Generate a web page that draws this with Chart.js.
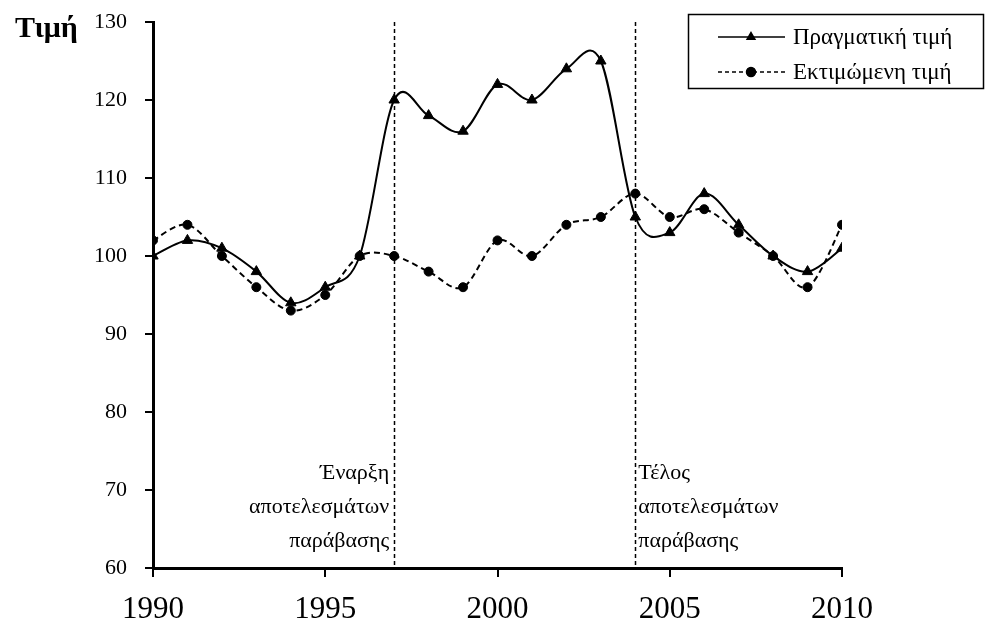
<!DOCTYPE html>
<html>
<head>
<meta charset="utf-8">
<script src="https://cdn.jsdelivr.net/npm/chart.js@4.4.0/dist/chart.umd.min.js"></script>
<style>
  html, body { margin: 0; padding: 0; background: #fff; }
  #wrap { width: 991px; height: 622px; position: relative; }
</style>
</head>
<body>
<div id="wrap"><canvas id="c" width="991" height="622"></canvas></div>
<script>
const years = [1990,1991,1992,1993,1994,1995,1996,1997,1998,1999,2000,2001,2002,2003,2004,2005,2006,2007,2008,2009,2010];
const actualValues = [100,102,101,98,94,96,100,120,118,116,122,120,124,125,105,103,108,104,100,98,101];
const estimatedValues = [102,104,100,96,93,95,100,100,98,96,102,100,104,105,108,105,106,103,100,96,104];
const seriesNames = ['Πραγματική τιμή', 'Εκτιμώμενη τιμή'];
const xTickLabels = ['1990','1995','2000','2005','2010'];
const xTickValues = [1990,1995,2000,2005,2010];
const yTickLabels = ['60','70','80','90','100','110','120','130'];
const markerYears = [1997, 2004];
const startLabel = ['Έναρξη', 'αποτελεσμάτων', 'παράβασης'];
const endLabel = ['Τέλος', 'αποτελεσμάτων', 'παράβασης'];
const yTitle = 'Τιμή';

const FONT = '"Liberation Serif", "Times New Roman", serif';

const toPts = (vals) => years.map((y, i) => ({x: y, y: vals[i]}));

// Excel-like smoothing: uniform Catmull-Rom control points
const smoothing = {
  id: 'smoothing',
  beforeDatasetDraw(chart, args) {
    const meta = args.meta;
    const line = meta.dataset;
    if (!line) return;
    line.updateControlPoints(chart.chartArea);
    const pts = meta.data;
    const n = pts.length;
    for (let i = 0; i < n; i++) {
      const p = pts[i];
      const pp = pts[Math.max(0, i - 1)];
      const pn = pts[Math.min(n - 1, i + 1)];
      const dx = (pn.x - pp.x) / 6, dy = (pn.y - pp.y) / 6;
      p.cp1x = p.x - dx; p.cp1y = p.y - dy;
      p.cp2x = p.x + dx; p.cp2y = p.y + dy;
    }
    line._path = undefined;
  }
};

const overlay = {
  id: 'overlay',
  afterDatasetsDraw(chart) {
    const ctx = chart.ctx;
    const xs = chart.scales.x;
    const top = chart.chartArea.top, bottom = chart.chartArea.bottom;
    ctx.save();
    ctx.strokeStyle = '#000';
    ctx.lineWidth = 1.5;
    ctx.setLineDash([4, 3]);
    markerYears.forEach(yr => {
      const px = Math.round(xs.getPixelForValue(yr)) + 0.5;
      ctx.beginPath();
      ctx.moveTo(px, top);
      ctx.lineTo(px, bottom);
      ctx.stroke();
    });
    ctx.setLineDash([]);
    ctx.fillStyle = '#000';
    ctx.font = '22px ' + FONT;
    ctx.textBaseline = 'middle';
    const x1 = xs.getPixelForValue(markerYears[0]);
    const x2 = xs.getPixelForValue(markerYears[1]);
    const lineYs = [473, 507, 541];
    ctx.textAlign = 'right';
    startLabel.forEach((t, i) => ctx.fillText(t, x1 - 5, lineYs[i]));
    ctx.textAlign = 'left';
    endLabel.forEach((t, i) => ctx.fillText(t, x2 + 3, lineYs[i]));
    ctx.font = 'bold 30px ' + FONT;
    ctx.textAlign = 'left';
    ctx.textBaseline = 'alphabetic';
    ctx.fillText(yTitle, 15, 37);
    ctx.lineWidth = 1.5;
    ctx.strokeStyle = '#000';
    ctx.strokeRect(688.5, 14.5, 295, 74);
    const rows = [37, 72];
    chart.data.datasets.forEach((ds, i) => {
      const y = rows[i];
      ctx.lineWidth = 1.5;
      ctx.setLineDash(ds.borderDash ? [4, 3] : []);
      ctx.beginPath();
      ctx.moveTo(718, y);
      ctx.lineTo(785, y);
      ctx.stroke();
      ctx.setLineDash([]);
      Chart.helpers.drawPoint(ctx, {pointStyle: ds.pointStyle, radius: 4.5, borderWidth: 1}, 751, y);
      ctx.fill();
      ctx.font = '23px ' + FONT;
      ctx.textBaseline = 'middle';
      ctx.textAlign = 'left';
      ctx.fillStyle = '#000';
      ctx.fillText(seriesNames[i], 793, y + 1);
    });
    ctx.restore();
  }
};

new Chart(document.getElementById('c'), {
  type: 'line',
  data: {
    datasets: [
      {
        label: seriesNames[0],
        data: toPts(actualValues),
        borderColor: '#000',
        backgroundColor: '#000',
        borderWidth: 2,
        pointStyle: 'triangle',
        pointRadius: 6,
        pointBorderWidth: 1,
        tension: 0.4,
        fill: false
      },
      {
        label: seriesNames[1],
        data: toPts(estimatedValues),
        borderColor: '#000',
        backgroundColor: '#000',
        borderWidth: 2,
        borderDash: [6, 4],
        pointStyle: 'circle',
        pointRadius: 4.5,
        pointBorderWidth: 1,
        tension: 0.4,
        fill: false
      }
    ]
  },
  options: {
    responsive: false,
    animation: false,
    devicePixelRatio: 1,
    layout: { padding: { left: 0, right: 149, top: 22, bottom: 0 } },
    plugins: { legend: { display: false }, tooltip: { enabled: false } },
    scales: {
      x: {
        type: 'linear',
        min: 1990, max: 2010,
        afterFit(scale) { scale.height = 54; scale.paddingLeft = 0; scale.paddingRight = 0; },
        afterBuildTicks(scale) { scale.ticks = xTickValues.map(v => ({value: v})); },
        border: { display: true, color: '#000', width: 3 },
        grid: { display: true, drawOnChartArea: false, drawTicks: true, tickLength: 9, color: '#000', lineWidth: 2 },
        ticks: {
          padding: 14,
          color: '#000',
          font: { family: FONT, size: 31 },
          maxRotation: 0,
          autoSkip: false,
          callback: (v) => xTickLabels[xTickValues.indexOf(v)]
        }
      },
      y: {
        type: 'linear',
        min: 60, max: 130,
        afterFit(scale) { scale.width = 153; scale.paddingTop = 0; scale.paddingBottom = 0; },
        border: { display: true, color: '#000', width: 3 },
        grid: { display: true, drawOnChartArea: false, drawTicks: true, tickLength: 8, color: '#000', lineWidth: 2 },
        ticks: {
          stepSize: 10,
          padding: 18,
          color: '#000',
          font: { family: FONT, size: 22 },
          callback: (v) => yTickLabels[(v - 60) / 10]
        }
      }
    }
  },
  plugins: [smoothing, overlay]
});
</script>
</body>
</html>
